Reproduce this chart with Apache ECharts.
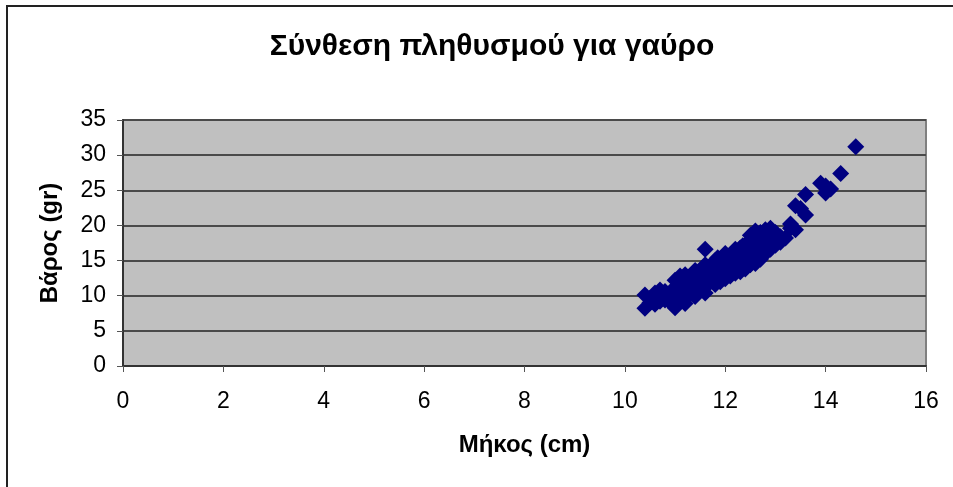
<!DOCTYPE html>
<html>
<head>
<meta charset="utf-8">
<script src="https://cdn.jsdelivr.net/npm/echarts@6/dist/echarts.min.js"></script>
<style>
  html, body { margin: 0; padding: 0; background: #fff; }
  #chart { width: 953px; height: 487px; }
</style>
</head>
<body>
<div id="chart"></div>
<script>
var titleText = 'Σύνθεση πληθυσμού για γαύρο';
var xName = 'Μήκος (cm)';
var yName = 'Βάρος (gr)';

// μήκος (cm) / βάρος (gr)
var lengths = [
  10.4, 10.4, 10.5, 10.6, 10.6, 10.7, 10.7, 10.8, 10.8, 10.9,
  10.9, 11.0, 11.0, 11.0, 11.0, 11.1, 11.1, 11.1, 11.2, 11.2,
  11.2, 11.2, 11.3, 11.3, 11.3, 11.4, 11.4, 11.4, 11.5, 11.5,
  11.5, 11.6, 11.6, 11.6, 11.6, 11.7, 11.7, 11.7, 11.8, 11.8,
  11.8, 11.8, 11.9, 11.9, 11.9, 11.9, 12.0, 12.0, 12.0, 12.0,
  12.0, 12.1, 12.1, 12.1, 12.1, 12.2, 12.2, 12.2, 12.2, 12.3,
  12.3, 12.3, 12.3, 12.3, 12.4, 12.4, 12.4, 12.4, 12.4, 12.5,
  12.5, 12.5, 12.5, 12.5, 12.6, 12.6, 12.6, 12.6, 12.6, 12.7,
  12.7, 12.7, 12.7, 12.7, 12.8, 12.8, 12.8, 12.8, 12.9, 12.9,
  12.9, 12.9, 13.0, 13.0, 13.0, 13.1, 13.2, 13.3, 13.3, 13.4,
  13.4, 13.5, 13.6, 13.6, 13.9, 14.0, 14.0, 14.1, 14.3, 14.6,
  10.5, 10.8, 11.0, 11.3, 11.5, 11.1, 11.0, 11.4, 11.85, 12.0,
  12.35, 12.2, 11.4, 12.1, 12.75, 13.0, 12.9, 10.6, 10.7, 11.2,
  11.6, 11.8, 12.5, 12.6, 13.1
];
var weights = [
  10.1, 8.2, 9.0, 9.4, 8.8, 9.6, 9.2, 10.0, 9.4, 10.2,
  9.1, 8.3, 9.8, 10.6, 11.2, 10.4, 9.5, 11.6, 8.9, 10.8,
  12.0, 13.0, 11.4, 10.2, 12.2, 11.0, 12.6, 10.6, 11.8, 13.2,
  12.4, 10.4, 16.6, 12.8, 11.2, 13.0, 12.0, 14.0, 12.6, 11.6,
  13.4, 14.6, 12.0, 13.8, 15.2, 12.8, 13.2, 14.2, 15.4, 12.4,
  16.0, 13.6, 14.8, 12.8, 15.8, 14.0, 13.2, 15.0, 16.2, 14.4,
  13.4, 15.6, 16.8, 14.0, 15.0, 14.2, 16.2, 17.2, 13.8, 15.4,
  16.6, 14.4, 17.8, 14.8, 16.0, 15.0, 17.4, 18.6, 14.6, 16.4,
  17.8, 15.6, 19.0, 15.2, 17.0, 18.2, 16.0, 19.4, 17.4, 18.8,
  16.6, 19.6, 18.0, 17.2, 19.0, 18.4, 18.2, 20.2, 19.6, 19.4,
  22.8, 22.4, 21.5, 24.4, 26.0, 25.6, 24.6, 25.2, 27.4, 31.2,
  9.6, 10.6, 9.0, 11.0, 10.8, 12.8, 12.2, 13.6, 15.4, 15.8,
  17.1, 16.6, 9.9, 13.2, 15.8, 17.2, 17.0, 10.4, 10.8, 12.4,
  14.4, 15.0, 18.6, 19.2, 17.6
];

var xTicks = [0, 16, 2];
var yTicks = [0, 35, 5];

var points = lengths.map(function (l, i) { return [l, weights[i]]; });

var myChart = echarts.init(document.getElementById('chart'), null, { renderer: 'canvas' });

var option = {
  backgroundColor: '#ffffff',
  animation: false,
  title: {
    text: titleText,
    left: 487,
    top: 27,
    textAlign: 'center',
    textStyle: { fontFamily: 'Liberation Sans', fontSize: 30, fontWeight: 'bold', color: '#000' }
  },
  graphic: [{
    type: 'rect',
    shape: { x: 7, y: 6, width: 960, height: 500 },
    style: { fill: 'none', stroke: '#222', lineWidth: 2 },
    silent: true
  }],
  grid: {
    left: 123, right: 27, top: 120, bottom: 121,
    show: true,
    backgroundColor: '#c0c0c0',
    borderColor: '#808080',
    borderWidth: 2
  },
  xAxis: {
    type: 'value',
    min: xTicks[0], max: xTicks[1], interval: xTicks[2],
    name: xName,
    nameLocation: 'middle',
    nameGap: 67,
    nameTextStyle: { fontFamily: 'Liberation Sans', fontSize: 24, fontWeight: 'bold', color: '#000' },
    axisLine: { show: true, onZero: false, lineStyle: { color: '#333', width: 2 } },
    axisTick: { show: true, length: 6, lineStyle: { color: '#555', width: 1 } },
    axisLabel: { fontFamily: 'Liberation Sans', fontSize: 23, color: '#000', margin: 24 },
    splitLine: { show: false }
  },
  yAxis: {
    type: 'value',
    min: yTicks[0], max: yTicks[1], interval: yTicks[2],
    name: yName,
    nameLocation: 'middle',
    nameGap: 61,
    nameTextStyle: { fontFamily: 'Liberation Sans', fontSize: 24, fontWeight: 'bold', color: '#000' },
    axisLine: { show: true, onZero: false, lineStyle: { color: '#333', width: 2 } },
    axisTick: { show: true, length: 6, lineStyle: { color: '#555', width: 1 } },
    axisLabel: { fontFamily: 'Liberation Sans', fontSize: 23, color: '#000', margin: 17 },
    splitLine: { show: true, lineStyle: { color: '#4a4a4a', width: 2 } }
  },
  series: [{
    type: 'scatter',
    data: points,
    symbol: 'diamond',
    symbolSize: [17, 17],
    itemStyle: { color: '#000080', opacity: 1 }
  }]
};

myChart.setOption(option);
window.addEventListener('resize', myChart.resize);
</script>
</body>
</html>
